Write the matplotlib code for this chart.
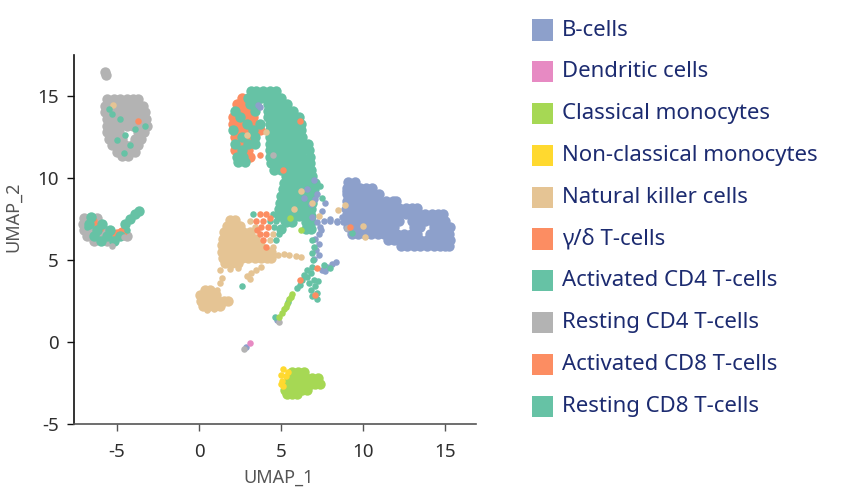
import numpy as np
import matplotlib
matplotlib.use("Agg")
import matplotlib.pyplot as plt
from matplotlib.patches import Rectangle

# ---------------- data ----------------
CATEGORIES = ["B-cells", "Dendritic cells", "Classical monocytes",
              "Non-classical monocytes", "Natural killer cells", "γ/δ T-cells",
              "Activated CD4 T-cells", "Resting CD4 T-cells",
              "Activated CD8 T-cells", "Resting CD8 T-cells"]
COLORS = ["#8da0cb", "#e78ac3", "#a6d854", "#ffd92f", "#e5c494", "#fc8d62",
          "#66c2a5", "#b3b3b3", "#fc8d62", "#66c2a5"]

# dense clusters: rows of (UMAP_2, [UMAP_1 ...])
BCELL_ROWS = [
    (9.75, [9.1, 9.5]),
    (9.4, [9.0, 9.4, 9.8, 10.2, 10.55]),
    (9.0, [9.0, 9.4, 9.8, 10.2, 10.6, 11.0]),
    (8.6, [9.0, 9.4, 9.8, 10.2, 10.6, 11.0, 11.4, 11.8, 12.0]),
    (8.2, [9.0, 9.4, 9.8, 10.2, 10.6, 11.0, 11.4, 11.8, 12.2, 12.6, 13.0, 13.3]),
    (7.8, [9.0, 9.4, 9.8, 10.2, 10.6, 11.0, 11.4, 11.8, 12.2, 12.6, 13.0, 13.4, 13.8, 14.2, 14.6, 14.9]),
    (7.4, [9.0, 9.4, 9.8, 10.2, 10.6, 11.0, 11.4, 11.8, 12.2, 13.0, 13.4, 13.8, 14.2, 14.6, 15.0]),
    (7.0, [9.1, 9.5, 9.9, 10.3, 10.7, 11.1, 11.5, 11.9, 13.1, 13.5, 14.3, 14.7, 15.05, 15.3]),
    (6.6, [9.3, 9.7, 10.1, 10.5, 10.9, 11.3, 11.7, 12.1, 12.5, 12.9, 13.3, 14.1, 14.5, 14.9, 15.25]),
    (6.2, [11.5, 11.9, 12.3, 12.7, 13.1, 13.5, 13.9, 14.3, 14.7, 15.05, 15.3]),
    (5.85, [12.3, 12.7, 13.1, 13.5, 13.9, 14.3, 14.7, 15.0, 15.25]),
]
BCELL_DOTS = [(8.0, 7.5), (8.4, 7.3), (8.7, 7.6), (8.85, 8.1), (7.2, 7.3), (7.4, 7.0),
              (7.3, 6.6), (7.1, 6.3), (7.3, 6.0), (7.15, 5.6), (7.3, 5.3), (7.0, 5.05),
              (7.6, 7.4), (8.0, 7.35), (8.4, 7.4), (8.8, 7.3), (7.5, 4.4), (7.8, 4.6),
              (8.1, 4.75), (8.35, 4.85), (7.7, 4.3), (6.4, 8.8), (6.8, 8.4), (7.1, 8.7),
              (7.5, 8.0), (6.6, 9.3), (7.2, 9.0), (7.7, 8.5), (8.9, 9.2), (9.0, 8.6),
              (7.0, 9.9), (3.6, 14.45), (3.75, 14.3), (4.75, 1.35), (2.85, -0.3),
              (7.45, 6.8), (6.9, 7.6)]
DENDRITIC_DOTS = [(3.11, -0.04)]
CLASSICAL_ROWS = [
    (-1.85, [5.7, 6.05, 6.4]),
    (-2.2, [5.5, 5.85, 6.2, 6.55, 6.9, 7.25]),
    (-2.55, [5.45, 5.8, 6.1, 6.45, 6.8, 7.1, 7.4]),
    (-2.9, [5.25, 5.6, 5.95, 6.3, 6.6]),
    (-3.15, [5.35, 5.7, 6.0]),
]
CLASSICAL_DOTS = [(5.7, 2.9), (5.5, 2.6), (5.35, 2.3), (5.2, 2.0), (5.05, 1.75),
                  (4.9, 1.55), (5.55, 7.55), (6.2, 6.8), (5.6, 2.75), (5.3, 2.15)]
NONCLASSICAL_DOTS = [(5.1, -1.65), (5.0, -2.0), (5.3, -2.05), (5.05, -2.4),
                     (5.15, -2.7), (5.4, -1.85), (5.0, -2.55)]
NK_ROWS = [
    (7.45, [1.9, 2.2]),
    (7.1, [1.7, 2.1, 2.5]),
    (6.7, [1.5, 1.9, 2.3, 2.7, 3.1]),
    (6.3, [1.45, 1.8, 2.2, 2.6, 3.0, 3.4]),
    (5.9, [1.4, 1.75, 2.15, 2.55, 2.95, 3.35, 3.75]),
    (5.5, [1.4, 1.75, 2.15, 2.55, 2.95, 3.35, 3.75, 4.15, 4.4]),
    (5.1, [1.45, 1.8, 2.2, 2.6, 3.0, 3.4, 3.8, 4.15, 4.4]),
    (4.8, [1.6, 2.0, 2.4]),
    (3.15, [0.35, 0.65]),
    (2.85, [0.05, 0.35, 0.7, 1.05]),
    (2.5, [0.1, 0.45, 0.8, 1.15, 1.5, 1.75]),
    (2.2, [0.25, 0.6, 0.95, 1.3]),
]
NK_DOTS = [(1.3, 4.4), (1.9, 4.45), (2.4, 4.5), (2.9, 4.0), (3.2, 4.2), (3.5, 4.4),
           (3.8, 4.55), (3.1, 3.85), (4.8, 5.3), (5.2, 5.35), (5.5, 5.3), (5.9, 5.25),
           (6.2, 5.2), (1.4, 3.9), (1.28, 3.6), (1.08, 3.17), (3.1, 7.4), (3.4, 7.0),
           (4.5, 6.6), (4.3, 6.2), (4.5, 5.8), (6.9, 8.5), (7.3, 7.7), (6.2, 9.2),
           (5.8, 8.1), (8.9, 8.35), (8.5, 8.05), (10.0, 7.1), (10.1, 6.4),
           (-5.24, 14.45), (2.9, 12.6), (4.1, 12.8), (0.5, 1.95), (0.9, 2.0)]
GD_DOTS = [(3.7, 7.8), (4.1, 7.8), (3.5, 7.4), (3.9, 7.4), (3.8, 7.0), (4.2, 7.0),
           (3.7, 6.6), (4.1, 6.6), (3.9, 6.2), (4.1, 5.8), (3.55, 6.85), (4.35, 7.55),
           (7.18, 4.5), (7.07, 2.87), (6.16, 3.78), (9.2, 7.03), (-3.7, 13.5),
           (5.12, 10.49), (3.72, 11.4), (6.16, 13.5)]
ACT_CD4_ROWS = [
    (15.3, [3.9, 4.3, 4.7]),
    (14.9, [3.8, 4.2, 4.6, 5.0]),
    (14.5, [4.2, 4.6, 5.0, 5.35]),
    (14.1, [4.2, 4.6, 5.0, 5.4, 5.75]),
    (13.7, [4.2, 4.6, 5.0, 5.4, 5.8, 6.1]),
    (13.3, [4.3, 4.7, 5.1, 5.5, 5.9, 6.2]),
    (12.9, [4.3, 4.7, 5.1, 5.5, 5.9, 6.25]),
    (12.5, [4.3, 4.7, 5.1, 5.5, 5.9, 6.3]),
    (12.1, [4.3, 4.7, 5.1, 5.5, 5.9, 6.3, 6.65]),
    (11.7, [4.3, 4.7, 5.1, 5.5, 5.9, 6.3, 6.7]),
    (11.3, [4.3, 4.7, 5.1, 5.5, 5.9, 6.3, 6.75]),
    (10.9, [4.4, 4.8, 5.2, 5.6, 6.0, 6.4, 6.75]),
    (10.5, [4.6, 5.0, 5.4, 5.8, 6.2, 6.6, 6.85]),
    (10.1, [5.3, 5.7, 6.1, 6.5, 6.9]),
    (9.7, [5.2, 5.6, 6.0, 6.4, 6.8, 7.05]),
    (9.3, [5.1, 5.5, 5.9, 6.3, 6.7, 7.0]),
    (8.9, [5.0, 5.4, 5.8, 6.2, 6.6, 6.95]),
    (8.5, [4.95, 5.35, 5.75, 6.15, 6.55, 6.9]),
    (8.1, [4.9, 5.3, 5.7, 6.1, 6.5, 6.85]),
    (7.7, [4.9, 5.3, 5.7, 6.1, 6.5, 6.8]),
    (7.3, [5.3, 5.7, 6.5, 6.8]),
    (6.9, [5.0, 6.5, 6.8]),
]
ACT_CD4_DOTS = [(3.3, 7.8), (4.5, 7.8), (4.9, 7.8), (4.3, 7.4), (4.7, 7.4), (5.1, 7.4),
                (4.6, 7.0), (4.9, 6.6), (4.7, 6.2), (6.9, 6.2), (7.0, 5.8), (6.9, 5.4),
                (6.95, 5.0), (6.9, 4.6), (6.85, 4.2), (7.0, 3.8), (6.7, 3.6), (7.1, 3.4),
                (6.8, 3.2), (7.2, 3.0), (6.9, 2.8), (7.2, 2.65), (6.6, 3.95), (6.3, 3.8),
                (6.15, 3.5), (5.95, 3.3), (6.4, 4.1), (6.6, 4.4), (7.25, 3.7),
                (7.6, 4.7), (8.0, 4.5), (2.6, 3.43), (4.65, 1.55), (5.45, 2.45),
                (9.33, 6.66), (7.35, 9.5), (7.5, 8.8)]
REST_CD4_ROWS = [
    (14.8, [-5.6, -5.2, -4.8, -4.4, -4.0, -3.7]),
    (14.4, [-5.7, -5.3, -4.9, -4.5, -4.1, -3.7, -3.4]),
    (14.0, [-5.7, -5.3, -4.9, -4.5, -4.1, -3.7, -3.3]),
    (13.6, [-5.6, -5.2, -4.8, -4.4, -4.0, -3.6, -3.2]),
    (13.2, [-5.6, -5.2, -4.8, -4.4, -4.0, -3.6, -3.15]),
    (12.8, [-5.6, -5.2, -4.9, -3.7, -3.35]),
    (12.4, [-5.5, -5.1, -4.7, -3.9, -3.55]),
    (12.0, [-5.3, -4.9, -4.5, -4.1, -3.7]),
    (11.6, [-5.0, -4.6, -4.2, -3.9]),
    (11.35, [-4.7, -4.3]),
    (16.45, [-5.75]),
    (16.25, [-5.65]),
    (7.55, [-7.0, -6.2]),
    (7.2, [-7.05, -6.3]),
    (6.8, [-7.0, -6.6, -5.8]),
    (6.45, [-6.8, -6.0, -5.2, -4.4]),
    (6.15, [-6.4, -5.6]),
]
REST_CD4_DOTS = [(-5.3, 5.85), (4.5, 11.4), (9.0, 6.95), (4.85, 1.2), (2.75, -0.4),
                 (-4.6, 6.4)]
ACT_CD8_POINTS = [(2.6, 14.9), (2.3, 14.5), (2.7, 14.5), (2.6, 14.1), (3.0, 14.1),
                  (2.1, 13.7), (2.9, 13.7), (3.3, 13.7), (2.1, 13.3), (2.5, 13.3),
                  (3.3, 13.3), (2.5, 12.9), (2.9, 12.9), (3.7, 12.9), (2.2, 12.5),
                  (3.0, 12.5), (2.6, 12.1), (2.2, 11.7), (3.0, 11.7), (3.1, 11.3),
                  (-6.5, 7.4), (-6.1, 7.0), (-5.0, 6.6), (-4.7, 6.7)]
REST_CD8_POINTS = [(3.2, 15.3), (3.5, 15.3), (3.0, 14.9), (3.4, 14.9), (3.1, 14.5),
                   (3.5, 14.5), (2.2, 14.1), (3.4, 14.1), (2.5, 13.7), (2.9, 13.3),
                   (3.7, 13.3), (2.1, 12.9), (3.3, 12.9), (2.6, 12.5), (3.4, 12.5),
                   (2.2, 12.1), (3.0, 12.1), (3.4, 12.1), (2.6, 11.7), (2.3, 11.3),
                   (2.7, 11.3), (2.4, 10.95), (2.8, 10.95),
                   (-6.6, 7.6), (-6.7, 7.2), (-5.9, 7.2), (-6.2, 6.8), (-5.4, 6.8),
                   (-6.4, 6.45), (-5.6, 6.45), (-4.8, 6.45), (-6.0, 6.15), (-5.2, 6.15),
                   (-4.5, 7.2), (-4.2, 7.5), (-3.9, 7.8), (-3.65, 8.0)]
REST_CD8_DOTS = [(-5.3, 13.9), (-4.8, 13.6), (-4.5, 12.6), (-3.9, 13.0), (-5.0, 12.3),
                 (-3.3, 13.2), (-4.6, 11.5), (-5.5, 14.2), (-4.2, 12.0), (-4.4, 6.8),
                 (-6.8, 7.0), (-6.3, 6.6)]

XTICKS = [-5, 0, 5, 10, 15]
YTICKS = [-5, 0, 5, 10, 15]


def rows_xy(rows):
    xs = [x for y, xl in rows for x in xl]
    ys = [y for y, xl in rows for x in xl]
    return np.array(xs), np.array(ys)


def pts_xy(pts):
    a = np.array(pts, dtype=float)
    return a[:, 0], a[:, 1]


# ---------------- figure ----------------
plt.rcParams['font.family'] = ['Noto Sans', 'DejaVu Sans']
fig = plt.figure(figsize=(8.52, 5.0), dpi=100)
ax = fig.add_axes([74 / 852, 76 / 500, 402 / 852, 369 / 500])

BIG = 56
SMALL = 22

dense = [
    (rows_xy(BCELL_ROWS), COLORS[0]),
    (rows_xy(REST_CD4_ROWS), COLORS[7]),
    (rows_xy(NK_ROWS), COLORS[4]),
    (rows_xy(ACT_CD4_ROWS), COLORS[6]),
    (pts_xy(ACT_CD8_POINTS), COLORS[8]),
    (pts_xy(REST_CD8_POINTS), COLORS[9]),
    (rows_xy(CLASSICAL_ROWS), COLORS[2]),
]
for (xs, ys), c in dense:
    ax.scatter(xs, ys, s=BIG, c=c, linewidths=0, zorder=2)

sparse = [
    (pts_xy(BCELL_DOTS), COLORS[0]),
    (pts_xy(NK_DOTS), COLORS[4]),
    (pts_xy(ACT_CD4_DOTS), COLORS[6]),
    (pts_xy(REST_CD8_DOTS), COLORS[9]),
    (pts_xy(REST_CD4_DOTS), COLORS[7]),
    (pts_xy(GD_DOTS), COLORS[5]),
    (pts_xy(CLASSICAL_DOTS), COLORS[2]),
    (pts_xy(NONCLASSICAL_DOTS), COLORS[3]),
    (pts_xy(DENDRITIC_DOTS), COLORS[1]),
]
for (xs, ys), c in sparse:
    ax.scatter(xs, ys, s=SMALL, c=c, linewidths=0, zorder=3)

ax.set_xlim(-7.62, 16.89)
ax.set_ylim(-5.0, 17.5)
ax.set_xticks(XTICKS)
ax.set_yticks(YTICKS)
ax.set_xticklabels([str(t) for t in XTICKS])
ax.set_yticklabels([str(t) for t in YTICKS])
for s in ['top', 'right']:
    ax.spines[s].set_visible(False)
ax.spines['left'].set_color('#111111')
ax.spines['bottom'].set_color('#555555')
ax.spines['left'].set_linewidth(1.2)
ax.spines['bottom'].set_linewidth(1.2)
ax.tick_params(axis='both', direction='out', length=5, width=1, labelsize=13.5,
               labelcolor='#2e2e2e', pad=6)
ax.tick_params(axis='x', color='#555555', pad=9)
ax.tick_params(axis='y', color='#111111')
ax.set_xlabel('UMAP_1', fontsize=13, color='#555555')
ax.set_ylabel('UMAP_2', fontsize=13, color='#555555')
ax.xaxis.set_label_coords((279 - 74) / 402, -(478 - 424) / 369)
ax.yaxis.set_label_coords((13 - 74) / 402, (424 - 217) / 369)
ax.xaxis.label.set_va('center')
ax.yaxis.label.set_va('center')

# legend, drawn by hand
W, H = 852, 500
fs = 15.5
probe = fig.text(0, 0, "Non-classical monocytes", fontsize=fs)
fig.canvas.draw()
wpx = probe.get_window_extent().width
probe.remove()
fs = fs * 256 / wpx
for i, (name, col) in enumerate(zip(CATEGORIES, COLORS)):
    cy = 30 + 41.8 * i
    fig.add_artist(Rectangle((532 / W, 1 - (cy + 10.5) / H), 21 / W, 21 / H,
                             transform=fig.transFigure, facecolor=col,
                             edgecolor='none'))
    fig.text(562 / W, 1 - cy / H, name, fontsize=fs, color='#1c2b70',
             va='center', ha='left')

fig.savefig('out.png', dpi=100)
